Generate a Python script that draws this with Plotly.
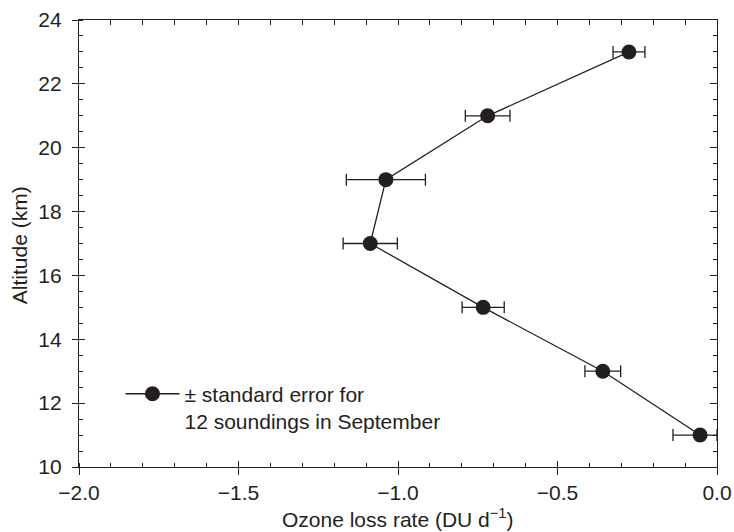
import plotly.graph_objects as go

# ---- data ----
altitude_km = [11, 13, 15, 17, 19, 21, 23]
loss_rate = [-0.053, -0.358, -0.733, -1.087, -1.038, -0.719, -0.276]
err_minus = [0.085, 0.056, 0.066, 0.085, 0.124, 0.070, 0.050]
err_plus = [0.053, 0.056, 0.066, 0.085, 0.124, 0.070, 0.050]
x_ticks = [-2.0, -1.5, -1.0, -0.5, 0.0]
y_ticks = [10, 12, 14, 16, 18, 20, 22, 24]
legend_label = "± standard error for<br>12 soundings in September"

INK = "#231f20"
FONT = "Arial, Liberation Sans, sans-serif"
FS = 21

fig = go.Figure()
fig.add_trace(go.Scatter(
    x=loss_rate, y=altitude_km, mode="lines+markers",
    name=legend_label,
    line=dict(color=INK, width=1.3),
    marker=dict(color=INK, size=15),
    error_x=dict(type="data", symmetric=False, array=err_plus, arrayminus=err_minus,
                 color=INK, thickness=1.3, width=6),
))
# invisible helpers so the overlay axes are drawn
fig.add_trace(go.Scatter(x=[x_ticks[0]], y=[y_ticks[0]], xaxis="x2", yaxis="y2",
                         mode="markers", marker=dict(opacity=0), showlegend=False, hoverinfo="skip"))
fig.add_trace(go.Scatter(x=[x_ticks[0]], y=[y_ticks[0]], xaxis="x3", yaxis="y3",
                         mode="markers", marker=dict(opacity=0), showlegend=False, hoverinfo="skip"))

xr = [x_ticks[0], x_ticks[-1]]
yr = [y_ticks[0], y_ticks[-1]]
common = dict(showgrid=False, zeroline=False, linecolor=INK, linewidth=1.3, automargin=False,
              tickcolor=INK, tickwidth=1.3, showline=True, fixedrange=True)

fig.update_layout(
    width=734, height=532,
    margin=dict(l=79, r=17, t=20, b=65, autoexpand=False),
    paper_bgcolor="white", plot_bgcolor="white",
    font=dict(family=FONT, size=FS, color=INK),
    showlegend=True,
    legend=dict(x=0.065, y=0.209, xanchor="left", yanchor="top",
                bgcolor="rgba(0,0,0,0)", font=dict(size=FS, color=INK),
                itemwidth=54, valign="top", tracegroupgap=0),
    xaxis=dict(range=xr, tickvals=x_ticks, tickformat=".1f", ticks="outside", ticklen=7,
               minor=dict(dtick=0.1, ticks="inside", ticklen=4, tickcolor=INK, tickwidth=1.3),
               **common),
    yaxis=dict(range=yr, tickvals=y_ticks, ticks="outside", ticklen=6,
               minor=dict(dtick=0.5, ticks="inside", ticklen=4, tickcolor=INK, tickwidth=1.3),
               ticklabelstandoff=6, **common),
    xaxis2=dict(range=xr, overlaying="x", anchor="y2", side="bottom", tickvals=x_ticks,
                ticks="inside", ticklen=6, showticklabels=False, **common),
    yaxis2=dict(range=yr, overlaying="y", anchor="x2", side="left", tickvals=y_ticks,
                ticks="inside", ticklen=6, showticklabels=False, **common),
    xaxis3=dict(range=xr, overlaying="x", anchor="y3", side="top", dtick=0.1, tick0=-2,
                ticks="inside", ticklen=5, showticklabels=False, **common),
    yaxis3=dict(range=yr, overlaying="y", anchor="x3", side="right", tickvals=y_ticks,
                ticks="inside", ticklen=7, showticklabels=False,
                minor=dict(dtick=0.5, ticks="inside", ticklen=4, tickcolor=INK, tickwidth=1.3),
                **common),
    annotations=[
        dict(text="Ozone loss rate (DU d<sup>−1</sup>)", xref="paper", yref="paper",
             x=0.5, y=-0.113, xanchor="center", yanchor="middle", showarrow=False,
             font=dict(size=FS, color=INK)),
        dict(text="Altitude (km)", xref="paper", yref="paper", textangle=-90,
             x=-0.092, y=0.497, xanchor="center", yanchor="middle", showarrow=False,
             font=dict(size=FS, color=INK)),
    ],
)

fig.write_html("out.html")
